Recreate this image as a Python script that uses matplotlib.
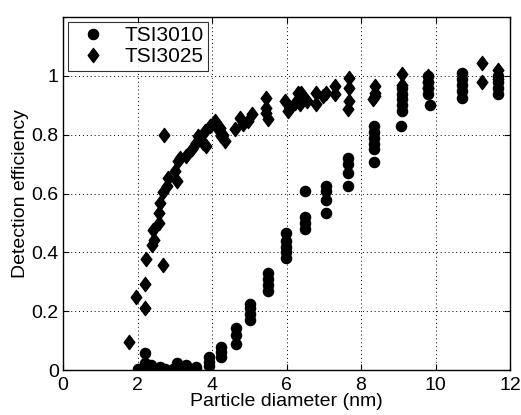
import numpy as np
import matplotlib.pyplot as plt
from matplotlib.path import Path

plt.rcParams['font.family'] = ['Liberation Sans', 'DejaVu Sans']

# TSI3010 (circles)
d_3010 = [2.0, 2.1, 2.2, 2.2, 2.2, 2.3, 2.35, 2.45, 2.6, 2.6, 2.75, 2.95, 3.05, 3.05,
          3.3, 3.3, 3.58, 3.58, 3.91, 3.91, 3.91, 4.25, 4.25, 4.25,
          4.64, 4.64, 4.64, 5.03, 5.03, 5.03, 5.03, 5.49, 5.49, 5.49, 5.49,
          5.98, 5.98, 5.98, 5.98, 5.98, 6.5, 6.5, 6.5, 6.49,
          7.05, 7.05, 7.05, 7.05, 7.65, 7.65, 7.65, 7.65,
          8.35, 8.35, 8.35, 8.35, 8.35, 8.35, 9.06, 9.09, 9.09, 9.09, 9.09, 9.09,
          9.85, 9.8, 9.8, 9.8, 9.8, 10.72, 10.72, 10.72, 10.72, 10.72,
          11.68, 11.68, 11.68, 11.68]
e_3010 = [0.005, 0.005, 0.057, 0.026, 0.008, 0.005, 0.018, 0.005, 0.012, 0.004, 0.005, 0.004, 0.023, 0.008,
          0.017, 0.006, 0.011, 0.004, 0.028, 0.015, 0.045, 0.045, 0.062, 0.08,
          0.09, 0.12, 0.145, 0.17, 0.19, 0.21, 0.225, 0.27, 0.29, 0.31, 0.33,
          0.38, 0.40, 0.42, 0.44, 0.466, 0.48, 0.50, 0.52, 0.61,
          0.534, 0.577, 0.61, 0.625, 0.627, 0.67, 0.70, 0.72,
          0.706, 0.75, 0.77, 0.79, 0.81, 0.83, 0.829, 0.88, 0.90, 0.92, 0.94, 0.96,
          0.90, 0.94, 0.96, 0.98, 1.0, 0.925, 0.95, 0.97, 0.99, 1.01,
          0.94, 0.96, 0.98, 1.0]

# TSI3025 (diamonds)
d_3025 = [1.77, 1.97, 2.2, 2.21, 2.22, 2.69, 2.39, 2.45, 2.42, 2.58, 2.58, 2.6, 2.69, 2.78,
          2.71, 2.82, 3.05, 3.0, 3.09, 3.14, 3.31, 3.45, 3.58, 3.63, 3.76, 3.85, 3.81,
          3.94, 4.07, 4.16, 4.21, 4.25, 4.34, 4.30, 4.61, 4.75, 4.84, 4.97, 5.06,
          5.46, 5.46, 5.51, 5.46, 5.95, 6.04, 6.09, 6.22, 6.31, 6.36, 6.4, 6.49, 6.54,
          6.8, 6.8, 6.98, 7.07, 7.3, 7.3, 7.68, 7.68, 7.68, 7.66,
          8.37, 8.37, 8.33, 8.37, 9.09, 9.09, 9.8, 9.8, 9.8, 11.26, 11.26, 11.68, 11.68]
e_3025 = [0.097, 0.25, 0.21, 0.293, 0.377, 0.358, 0.426, 0.443, 0.475, 0.50, 0.534, 0.568, 0.607, 0.625,
          0.80, 0.653, 0.642, 0.676, 0.71, 0.72, 0.727, 0.75, 0.772, 0.795, 0.772, 0.761, 0.812,
          0.829, 0.846, 0.818, 0.823, 0.795, 0.778, 0.80, 0.818, 0.858, 0.835, 0.846, 0.869,
          0.926, 0.892, 0.852, 0.875, 0.914, 0.88, 0.892, 0.909, 0.943, 0.903, 0.943, 0.92, 0.914,
          0.943, 0.903, 0.931, 0.943, 0.965, 0.937, 0.994, 0.96, 0.914, 0.886,
          0.965, 0.943, 0.92, 0.93, 1.005, 0.97, 1.0, 0.98, 0.96, 1.045, 0.98, 1.02, 0.99]

xticks = [0, 2, 4, 6, 8, 10, 12]
yticks = [0, 0.2, 0.4, 0.6, 0.8, 1]
ytick_labels = ['0', '0.2', '0.4', '0.6', '0.8', '1']

# diamond a bit taller than wide, like the scanned figure
diamond = Path([(0, 1), (0.75, 0), (0, -1), (-0.75, 0), (0, 1)],
               [Path.MOVETO, Path.LINETO, Path.LINETO, Path.LINETO, Path.CLOSEPOLY])

fig = plt.figure(figsize=(5.21, 4.15), dpi=100)
ax = fig.add_axes([0.121, 0.108, 0.858, 0.851])

ax.plot(d_3010, e_3010, 'o', color='black', ms=7.3, label='TSI3010')
ax.plot(d_3025, e_3025, linestyle='none', marker=diamond, color='black', ms=10.2, label='TSI3025')

ax.set_xlim(0, 12)
ax.set_ylim(0, 1.2)
ax.set_xticks(xticks)
ax.set_yticks(yticks)
ax.set_yticklabels(ytick_labels)
ax.grid(True, linestyle=(0, (1, 3)), color='black', linewidth=0.7)
ax.tick_params(direction='in', top=True, right=True, labelsize=14, length=4)
ax.tick_params(axis='x', pad=5)
ax.tick_params(axis='y', pad=3)
for s in ax.spines.values():
    s.set_linewidth(1.0)

ax.set_xlabel('Particle diameter (nm)', fontsize=14, labelpad=-1)
ax.set_ylabel('Detection efficiency', fontsize=14, labelpad=2)

leg = ax.legend(loc='upper left', fontsize=15, frameon=True, fancybox=False,
                edgecolor='black', borderaxespad=0.25, handletextpad=0.5,
                borderpad=0.2, labelspacing=0.1, handlelength=2.0)
leg.get_frame().set_linewidth(0.8)

plt.savefig('out.png', dpi=100)
